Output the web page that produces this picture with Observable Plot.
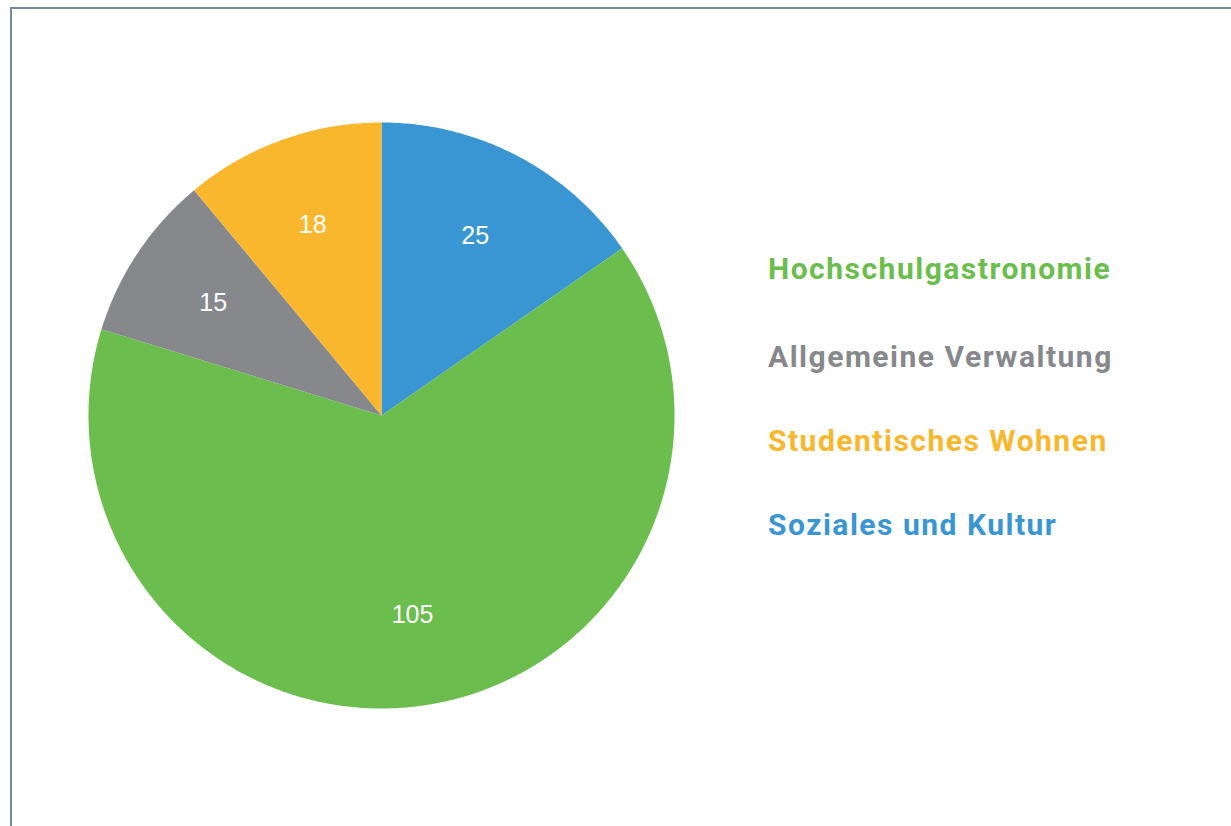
<!DOCTYPE html>
<html><head><meta charset="utf-8">
<script src="https://cdn.jsdelivr.net/npm/d3@7"></script>
<script src="https://cdn.jsdelivr.net/npm/@observablehq/plot@0.6"></script>
<style>
body{margin:0;background:#fff;}
#wrap{position:relative;width:1231px;height:826px;overflow:hidden;background:#fff;}
#chart{position:absolute;left:0;top:0;}
#border{position:absolute;left:10px;top:7px;width:1240px;height:840px;border:2px solid #768aa0;pointer-events:none;box-sizing:border-box;}
#legend{position:absolute;left:768px;top:248px;font-family:Roboto,sans-serif;font-weight:700;font-size:30px;letter-spacing:1.5px;}
#legend div{height:84px;line-height:42px;white-space:nowrap;}
#legend div:first-child{height:88px;}
</style></head>
<body>
<div id="wrap"><div id="chart"></div><div id="legend"></div><div id="border"></div></div>
<script>
const categories = ["Soziales und Kultur","Hochschulgastronomie","Allgemeine Verwaltung","Studentisches Wohnen"];
const values = [25,105,15,18];
const colors = ["#3A96D3","#6BBD4E","#86888B","#F8B72C"];
const legendOrder = ["Hochschulgastronomie","Allgemeine Verwaltung","Studentisches Wohnen","Soziales und Kultur"];

const rows = categories.map((c,i)=>({cat:c, value:values[i]}));
const arcs = d3.pie().sort(null).value(d=>d.value)(rows);

const polys = [];
arcs.forEach(a=>{
  const cat = a.data.cat;
  polys.push({cat, x:0, y:0});
  const n = Math.max(2, Math.ceil((a.endAngle-a.startAngle)/(Math.PI/360)));
  for(let k=0;k<=n;k++){
    const t = a.startAngle + (a.endAngle-a.startAngle)*k/n;
    polys.push({cat, x:Math.sin(t), y:Math.cos(t)});
  }
  polys.push({cat, x:0, y:0});
});
const labels = arcs.map(a=>{
  const m=(a.startAngle+a.endAngle)/2, r=0.69;
  return {cat:a.data.cat, value:a.data.value, x:r*Math.sin(m), y:r*Math.cos(m)};
});

const color = {domain:categories, range:colors};
const plot = Plot.plot({
  width:1231, height:826,
  marginLeft:88, marginRight:557, marginTop:122, marginBottom:118,
  x:{domain:[-1,1], axis:null},
  y:{domain:[-1,1], axis:null},
  color,
  style:{background:"transparent"},
  marks:[
    Plot.line(polys,{x:"x", y:"y", z:"cat", fill:"cat", stroke:"none", curve:"linear"}),
    Plot.text(labels,{x:"x", y:"y", text:d=>String(d.value), fill:"white", fontSize:25, fontFamily:"'Liberation Sans', Arial, sans-serif"})
  ]
});
document.getElementById("chart").appendChild(plot);

const scale = d3.scaleOrdinal(categories, colors);
const lg = document.getElementById("legend");
legendOrder.forEach(c=>{
  const d=document.createElement("div");
  d.textContent=c; d.style.color=scale(c);
  lg.appendChild(d);
});
</script>
</body></html>
